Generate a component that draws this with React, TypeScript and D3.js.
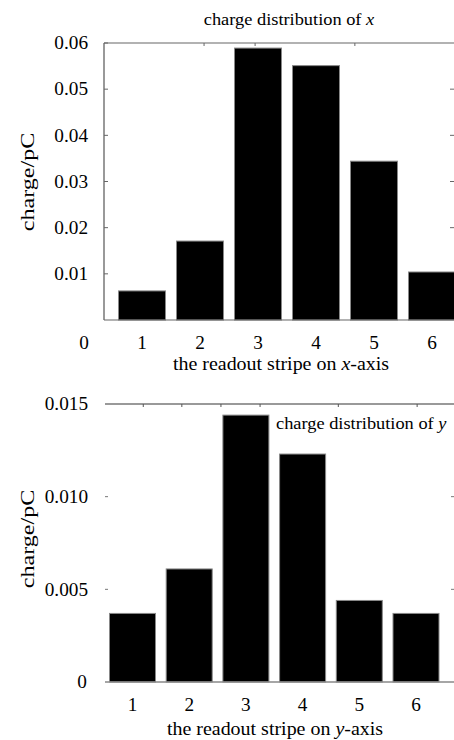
import React from "react";
import * as d3 from "d3";

const stripes = [1, 2, 3, 4, 5, 6];
const chargeX = [0.0063, 0.0171, 0.0589, 0.0551, 0.0344, 0.0104];
const chargeY = [0.0037, 0.0061, 0.0144, 0.0123, 0.0044, 0.0037];
const yTicksTop = [0.01, 0.02, 0.03, 0.04, 0.05, 0.06];
const yTicksBottom = [0, 0.005, 0.01, 0.015];
const topMinorTop = [2.07, 2.95, 4.67];
const topMinorBottom = [1.19, 1.87, 2.56, 3.25, 4.63, 6.02];

const FONT = "'Liberation Serif', 'Times New Roman', serif";

function T(props: {
  x: number;
  y: number;
  size: number;
  sx?: number;
  anchor?: string;
  rotate?: number;
  dy?: string;
  children: React.ReactNode;
}) {
  const { x, y, size, sx = 1.1, anchor = "middle", rotate = 0, dy, children } = props;
  return (
    <text
      transform={`translate(${x},${y}) rotate(${rotate}) scale(${sx},1)`}
      fontSize={size}
      textAnchor={anchor}
      dy={dy}
      fill="#000"
    >
      {children}
    </text>
  );
}

export default function App() {
  const W = 454;
  const H = 740;

  const xT = d3.scaleLinear().domain([0, 6]).range([84, 432]);
  const yT = d3.scaleLinear().domain([0, 0.06]).range([320, 43]);
  const bwT = 47;
  const xB = d3.scaleLinear().domain([1, 6]).range([132.5, 416]);
  const yB = d3.scaleLinear().domain([0, 0.015]).range([682, 404]);
  const bwB = 46;

  const fmtTop = d3.format(".2f");
  const fmtBot = (v: number) => (v === 0 ? "0" : d3.format(".3f")(v));

  return (
    <svg
      width={W}
      height={H}
      style={{ position: "absolute", left: 0, top: 0, background: "#fff" }}
      fontFamily={FONT}
    >
      <rect x={0} y={0} width={W} height={H} fill="#fff" />
      {/* ---------- TOP CHART ---------- */}
      <T x={289} y={25} size={17} sx={1.08}>
        charge distribution of <tspan fontStyle="italic">x</tspan>
      </T>
      {stripes.map((s, i) => (
        <rect
          key={"bt" + s}
          x={xT(s) - bwT / 2}
          y={yT(chargeX[i])}
          width={bwT}
          height={yT(0) - yT(chargeX[i])}
          fill="#000"
          stroke="#888"
          strokeWidth={1}
        />
      ))}
      <line x1={104} x2={104} y1={yT(0.06)} y2={yT(0)} stroke="#555" strokeWidth={1.2} />
      <line x1={104} x2={W} y1={yT(0.06)} y2={yT(0.06)} stroke="#666" strokeWidth={1.2} />
      <line x1={104} x2={W} y1={yT(0)} y2={yT(0)} stroke="#666" strokeWidth={1.2} />
      {yTicksTop.map((t) => (
        <g key={"yt" + t}>
          <line x1={104} x2={108} y1={yT(t)} y2={yT(t)} stroke="#666" />
          {t > 0.01 && t < 0.06 && (
            <line x1={450} x2={454} y1={yT(t)} y2={yT(t)} stroke="#666" />
          )}
          <T x={88} y={yT(t)} dy="0.35em" size={18} sx={1.07} anchor="end">
            {fmtTop(t)}
          </T>
        </g>
      ))}
      {topMinorTop.map((t) => (
        <line key={"mt" + t} x1={xT(t)} x2={xT(t)} y1={yT(0.06)} y2={yT(0.06) + 3} stroke="#666" />
      ))}
      {[0, ...stripes].map((s) => (
        <T key={"xt" + s} x={xT(s)} y={349} size={18} sx={1.07}>
          {s}
        </T>
      ))}
      <T x={281} y={370} size={18} sx={1.11}>
        the readout stripe on <tspan fontStyle="italic">x</tspan>-axis
      </T>
      <T x={34} y={182} size={19} sx={1.27} rotate={-90}>
        charge/pC
      </T>

      {/* ---------- BOTTOM CHART ---------- */}
      {stripes.map((s, i) => (
        <rect
          key={"bb" + s}
          x={xB(s) - bwB / 2}
          y={yB(chargeY[i])}
          width={bwB}
          height={yB(0) - yB(chargeY[i])}
          fill="#000"
          stroke="#888"
          strokeWidth={1}
        />
      ))}
      <line x1={105} x2={W} y1={yB(0.015)} y2={yB(0.015)} stroke="#999" strokeWidth={2} />
      <line x1={105} x2={W} y1={yB(0)} y2={yB(0)} stroke="#888" strokeWidth={1.5} />
      {topMinorBottom.map((t) => (
        <line key={"mb" + t} x1={xB(t)} x2={xB(t)} y1={yB(0.015)} y2={yB(0.015) + 3} stroke="#555" />
      ))}
      {yTicksBottom.map((t) => (
        <g key={"yb" + t}>
          {t > 0 && t < 0.015 && (
            <>
              <line x1={105} x2={108} y1={yB(t)} y2={yB(t)} stroke="#777" />
              <line x1={451} x2={454} y1={yB(t)} y2={yB(t)} stroke="#777" />
            </>
          )}
          <T
            x={t === 0 ? 82 : 88}
            y={yB(t)}
            dy="0.35em"
            size={18}
            sx={1.07}
            anchor={t === 0 ? "middle" : "end"}
          >
            {fmtBot(t)}
          </T>
        </g>
      ))}
      <T x={276} y={429} size={17} sx={1.08} anchor="start">
        charge distribution of <tspan fontStyle="italic">y</tspan>
      </T>
      {stripes.map((s) => (
        <T key={"xb" + s} x={xB(s)} y={711} size={18} sx={1.07}>
          {s}
        </T>
      ))}
      <T x={275} y={735} size={18} sx={1.11}>
        the readout stripe on <tspan fontStyle="italic">y</tspan>-axis
      </T>
      <T x={34} y={539} size={19} sx={1.27} rotate={-90}>
        charge/pC
      </T>
    </svg>
  );
}
